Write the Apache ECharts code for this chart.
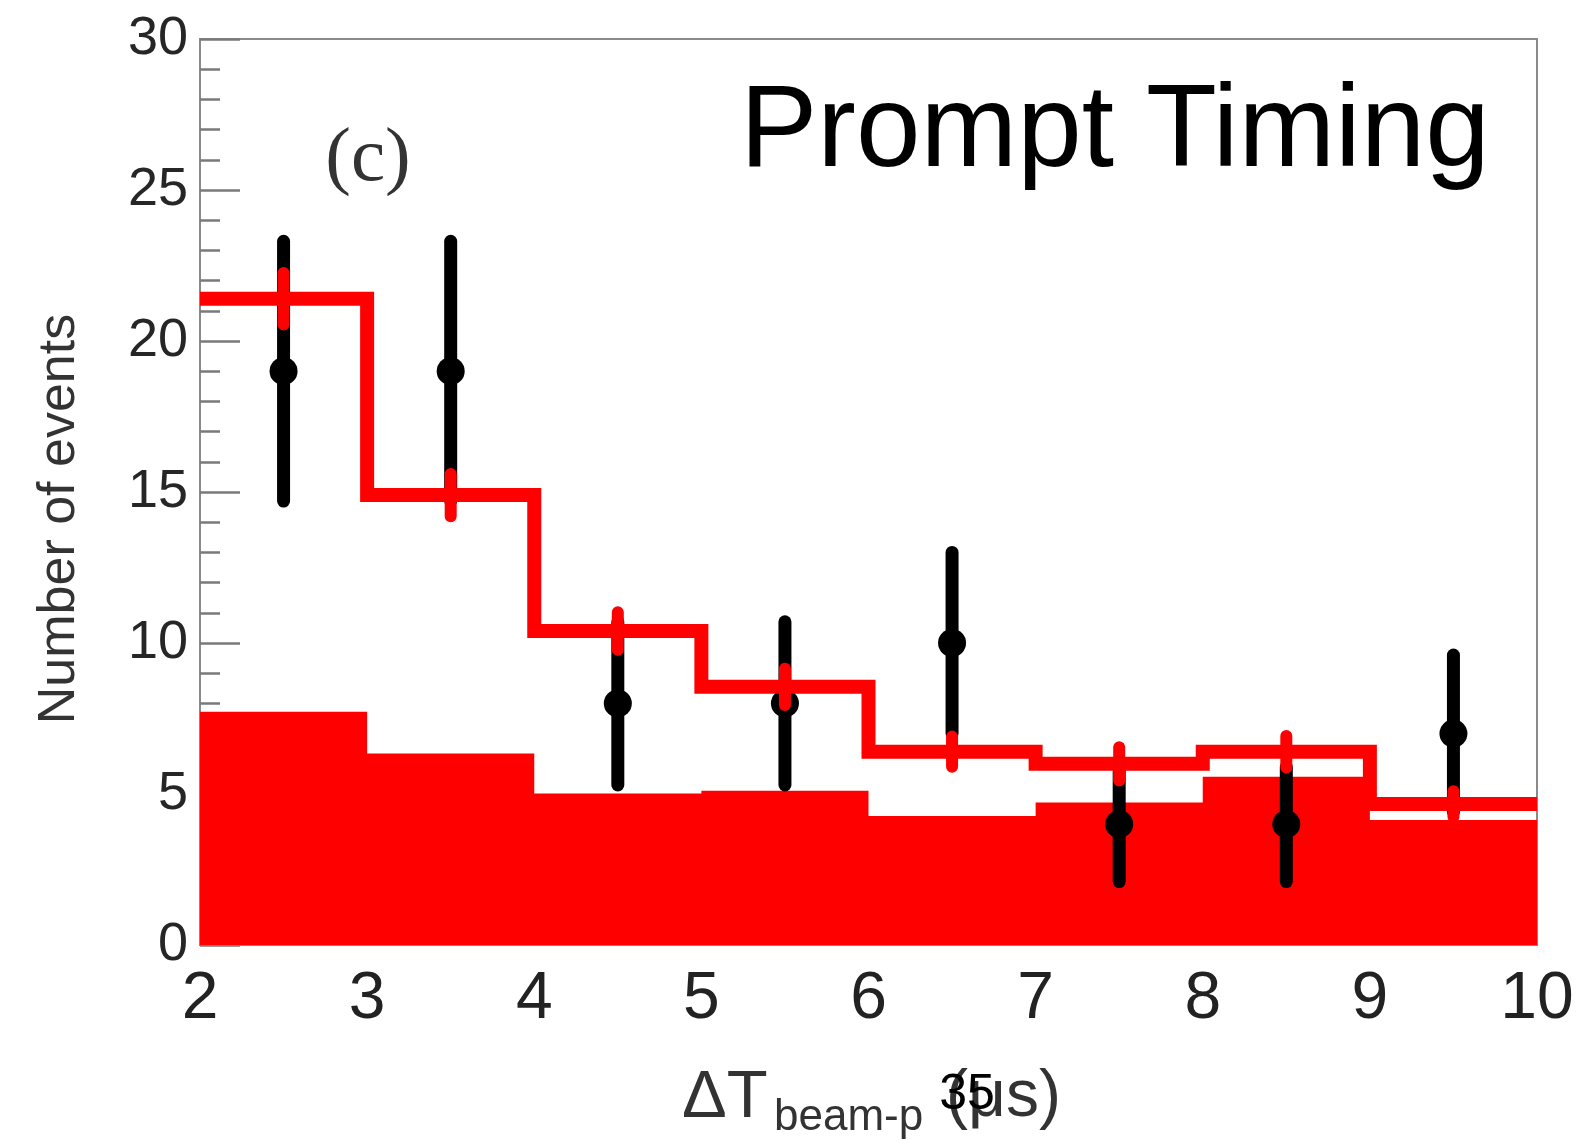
<!DOCTYPE html>
<html>
<head>
<meta charset="utf-8">
<script src="https://cdn.jsdelivr.net/npm/echarts@6/dist/echarts.min.js"></script>
<style>
html,body{margin:0;padding:0;background:#fff;}
#chart{width:1578px;height:1146px;}
</style>
</head>
<body>
<div id="chart"></div>
<script>
// ---- data ----
const binEdges   = [2, 3, 4, 5, 6, 7, 8, 9, 10];
const binCenters = [2.5, 3.5, 4.5, 5.5, 6.5, 7.5, 8.5, 9.5];
const mcTotal    = [21.4, 14.9, 10.4, 8.55, 6.4, 6.0, 6.4, 4.67];
const mcTotalErr = [0.85, 0.7, 0.62, 0.6, 0.5, 0.55, 0.52, 0.42];
const background = [7.72, 6.34, 5.02, 5.11, 4.27, 4.72, 5.57, 4.14];
const dataCounts = [19, 19, 8, 8, 10, 4, 4, 7];
const dataErr    = [4.3, 4.3, 2.7, 2.7, 3.0, 1.9, 1.9, 2.6];
const xTicks = [2, 3, 4, 5, 6, 7, 8, 9, 10];
const yTicks = [0, 5, 10, 15, 20, 25, 30];

function stepPoints(vals) {
  const pts = vals.map((v, i) => [binEdges[i], v]);
  pts.push([binEdges[binEdges.length - 1], vals[vals.length - 1]]);
  return pts;
}

const chart = echarts.init(document.getElementById('chart'), null, {renderer: 'canvas'});

const option = {
  backgroundColor: '#ffffff',
  animation: false,
  grid: {
    left: 200, right: 41, top: 39, bottom: 201,
    show: true, borderColor: '#8a8a8a', borderWidth: 2, backgroundColor: 'transparent'
  },
  xAxis: {
    type: 'value', min: 2, max: 10, interval: 1,
    axisLine: {show: false},
    axisTick: {show: false},
    splitLine: {show: false},
    axisLabel: {
      fontFamily: 'Liberation Sans', fontSize: 66, color: '#222', margin: 22,
      formatter: v => xTicks.includes(v) ? String(v) : ''
    }
  },
  yAxis: {
    type: 'value', min: 0, max: 30, interval: 5,
    axisLine: {show: true, lineStyle: {color: '#8a8a8a', width: 2}},
    axisTick: {show: true, inside: true, length: 40, lineStyle: {color: '#7a7a7a', width: 2.5}},
    minorTick: {show: true, splitNumber: 5, length: 20, lineStyle: {color: '#7a7a7a', width: 2.5}},
    splitLine: {show: false},
    axisLabel: {
      fontFamily: 'Liberation Sans', fontSize: 54, color: '#262626', margin: 12,
      formatter: v => yTicks.includes(v) ? String(v) : ''
    }
  },
  series: [
    {
      name: 'background', type: 'line', step: 'end', z: 1,
      data: stepPoints(background), showSymbol: false, symbol: 'none',
      lineStyle: {width: 0, color: '#ff0000'},
      areaStyle: {color: '#ff0000', opacity: 1}
    },
    {
      name: 'data', type: 'custom', z: 3,
      data: binCenters.map((c, i) => [c, dataCounts[i], dataErr[i]]),
      renderItem: function (params, api) {
        const x = api.value(0), y = api.value(1), e = api.value(2);
        const lo = api.coord([x, y - e]), hi = api.coord([x, y + e]), p = api.coord([x, y]);
        return {
          type: 'group',
          children: [
            {type: 'line', shape: {x1: lo[0], y1: lo[1], x2: hi[0], y2: hi[1]},
             style: {stroke: '#000', lineWidth: 13, lineCap: 'round'}},
            {type: 'circle', shape: {cx: p[0], cy: p[1], r: 14}, style: {fill: '#000'}}
          ]
        };
      }
    },
    {
      name: 'total', type: 'line', step: 'end', z: 4,
      data: stepPoints(mcTotal), showSymbol: false, symbol: 'none',
      lineStyle: {width: 14, color: '#ff0000', join: 'miter', cap: 'butt'}
    },
    {
      name: 'totalErr', type: 'custom', z: 5,
      data: binCenters.map((c, i) => [c, mcTotal[i], mcTotalErr[i]]),
      renderItem: function (params, api) {
        const x = api.value(0), y = api.value(1), e = api.value(2);
        const lo = api.coord([x, y - e]), hi = api.coord([x, y + e]);
        return {type: 'line', shape: {x1: lo[0], y1: lo[1], x2: hi[0], y2: hi[1]},
                style: {stroke: '#ff0000', lineWidth: 12, lineCap: 'round'}};
      }
    }
  ],
  graphic: [
    {type: 'text', x: 60, y: 519, rotation: Math.PI / 2, z: 10,
     style: {text: 'Number of events', font: '52px "Liberation Sans"', fill: '#333',
             align: 'center', verticalAlign: 'middle'}},
    {type: 'text', x: 740, y: 134, z: 10,
     style: {text: 'Prompt Timing', font: '116px "Liberation Sans"', fill: '#000',
             align: 'left', verticalAlign: 'middle'}},
    {type: 'text', x: 368, y: 160, z: 10,
     style: {text: '(c)', font: '77px "Liberation Serif"', fill: '#333',
             align: 'center', verticalAlign: 'middle'}},
    {type: 'text', x: 682, y: 1099, z: 10,
     style: {text: 'ΔT', font: '67px "Liberation Sans"', fill: '#333',
             align: 'left', verticalAlign: 'middle'}},
    {type: 'text', x: 774, y: 1118, z: 10,
     style: {text: 'beam-p', font: '44px "Liberation Sans"', fill: '#333',
             align: 'left', verticalAlign: 'middle'}},
    {type: 'text', x: 946, y: 1098, z: 10,
     style: {text: '(μs)', font: '66px "Liberation Sans"', fill: '#333',
             align: 'left', verticalAlign: 'middle'}},
    {type: 'text', x: 967, y: 1095, z: 11,
     style: {text: '35', font: '50px "Liberation Sans"', fill: '#000',
             align: 'center', verticalAlign: 'middle'}}
  ]
};
chart.setOption(option);
</script>
</body>
</html>
